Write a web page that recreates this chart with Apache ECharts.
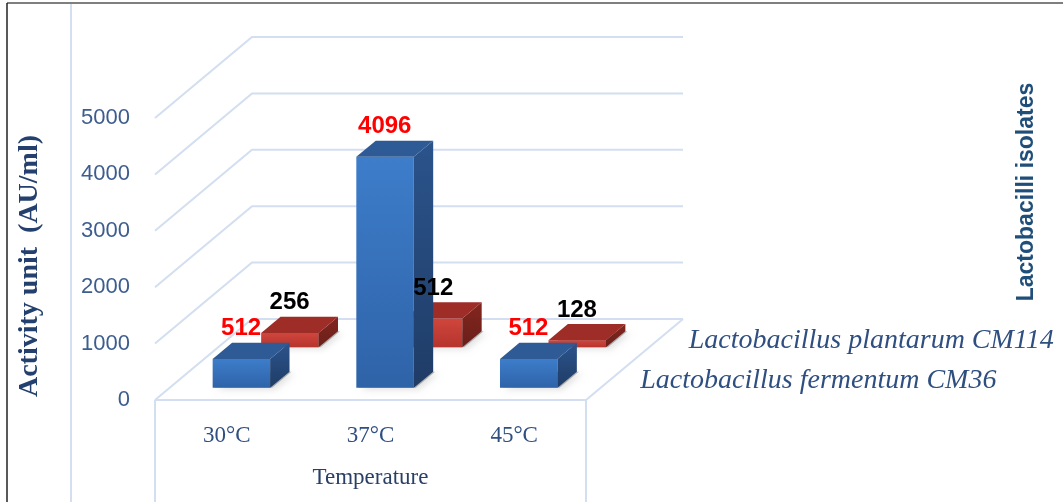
<!DOCTYPE html>
<html>
<head>
<meta charset="utf-8">
<script src="https://cdn.jsdelivr.net/npm/echarts@6/dist/echarts.min.js"></script>
<style>
  html, body { margin: 0; padding: 0; background: #fff; }
  #chart { width: 1063px; height: 502px; }
</style>
</head>
<body>
<div id="chart"></div>
<script>
// data
var temperatures = ['30°C', '37°C', '45°C'];
var seriesNames = ['Lactobacillus fermentum CM36', 'Lactobacillus plantarum CM114'];
var fermentumValues = [512, 4096, 512];
var plantarumValues = [256, 512, 128];
var yTicks = [0, 1000, 2000, 3000, 4000, 5000];

// fake 3d: how far the back of the box sits from the front plane
var DX = 97, DY = -81;
var gridColor = '#d3dff0';

function toPairs(arr) {
    return arr.map(function (v, i) { return [i, v]; });
}

function wallRenderer(params, api) {
    var cs = params.coordSys;
    var y = api.coord([0, api.value(1)])[1];
    var x0 = cs.x, x1 = cs.x + cs.width;
    var lineStyle = { stroke: gridColor, lineWidth: 2, fill: null };
    var children = [{
        type: 'polyline',
        shape: { points: [[x0, y], [x0 + DX, y + DY], [x1 + DX, y + DY]] },
        style: lineStyle
    }];
    if (api.value(1) === 0) {
        // floor front + right edge, and the box round the category labels
        children.push({
            type: 'polyline',
            shape: { points: [[x0, y], [x1, y], [x1 + DX, y + DY]] },
            style: lineStyle
        });
        children.push({ type: 'line', shape: { x1: x0, y1: y, x2: x0, y2: 502 }, style: lineStyle });
        children.push({ type: 'line', shape: { x1: x1, y1: y, x2: x1, y2: 502 }, style: lineStyle });
    }
    return { type: 'group', children: children };
}

function grad(c1, c2) {
    return new echarts.graphic.LinearGradient(0, 0, 0, 1, [
        { offset: 0, color: c1 }, { offset: 1, color: c2 }
    ]);
}

// box corners of one bar, projected
function barBox(row, api) {
    var cat = api.value(0), val = api.value(1);
    var base = api.coord([cat, 0]);
    var top = api.coord([cat, val]);
    var bw = api.size([1, 0])[0] * 0.4;
    var f0 = row * 0.5 + 0.15, d = 0.2;
    var xl = base[0] - bw / 2 + f0 * DX;
    return {
        val: val, bw: bw, xl: xl, xr: xl + bw,
        yb: base[1] + f0 * DY, yt: top[1] + f0 * DY,
        ddx: d * DX, ddy: d * DY
    };
}

function barRenderer(row, colors) {
    return function (params, api) {
        var b = barBox(row, api);
        var xl = b.xl, xr = b.xr, yb = b.yb, yt = b.yt, ddx = b.ddx, ddy = b.ddy;
        return {
            type: 'group',
            children: [
                {   // soft shadow on the floor
                    type: 'polygon',
                    shape: { points: [[xl + 2, yb], [xr + 2, yb], [xr + ddx + 2, yb + ddy], [xl + ddx, yb + ddy]] },
                    style: { fill: 'rgba(0,0,0,0.25)', shadowBlur: 6, shadowColor: 'rgba(0,0,0,0.45)', shadowOffsetX: 3, shadowOffsetY: 2 }
                },
                {
                    type: 'rect',
                    shape: { x: xl, y: yt, width: b.bw, height: yb - yt },
                    style: { fill: grad(colors.front[0], colors.front[1]) }
                },
                {
                    type: 'polygon',
                    shape: { points: [[xr, yt], [xr + ddx, yt + ddy], [xr + ddx, yb + ddy], [xr, yb]] },
                    style: { fill: grad(colors.side[0], colors.side[1]) }
                },
                {
                    type: 'polygon',
                    shape: { points: [[xl, yt], [xl + ddx, yt + ddy], [xr + ddx, yt + ddy], [xr, yt]] },
                    style: { fill: colors.top }
                }
            ]
        };
    };
}

function labelRenderer(row, labelColor, name) {
    return function (params, api) {
        var cs = params.coordSys;
        var b = barBox(row, api);
        var children = [{
            type: 'text',
            style: {
                text: String(b.val),
                x: (b.xl + b.xr) / 2 + b.ddx / 2 - 10,
                y: b.yt + b.ddy / 2 - 22,
                align: 'center',
                verticalAlign: 'middle',
                fill: labelColor,
                font: 'bold 24px "Liberation Sans", Arial, sans-serif'
            }
        }];
        if (params.dataIndex === 0) {
            // series name on the depth axis, off the right floor edge
            var fc = row * 0.5 + 0.25;
            children.push({
                type: 'text',
                style: {
                    text: name,
                    x: cs.x + cs.width + fc * DX + 30,
                    y: cs.y + cs.height + fc * DY + 1,
                    align: 'left',
                    verticalAlign: 'middle',
                    fill: '#2f4f80',
                    font: 'italic 28px "Liberation Serif", "Times New Roman", serif'
                }
            });
        }
        return { type: 'group', children: children };
    };
}

var blueFaces = { front: ['#3d7dca', '#2f63a8'], side: ['#2b548c', '#1f3c66'], top: '#2e5b95' };
var redFaces = { front: ['#d0463d', '#b5342d'], side: ['#84261f', '#6a1e1a'], top: '#9e2c27' };

var chart = echarts.init(document.getElementById('chart'));
chart.setOption({
    animation: false,
    backgroundColor: '#fff',
    grid: { left: 155, right: 477, top: 118, bottom: 102 },
    xAxis: {
        type: 'category',
        data: temperatures,
        name: 'Temperature',
        nameLocation: 'middle',
        nameGap: 66,
        nameTextStyle: { color: '#2a3f66', fontSize: 23, fontFamily: '"Liberation Serif", "Times New Roman", serif' },
        axisLine: { show: false },
        axisTick: { show: false },
        axisLabel: { margin: 24, color: '#2f4f80', fontSize: 23, fontFamily: '"Liberation Serif", "Times New Roman", serif' }
    },
    yAxis: {
        type: 'value',
        min: 0,
        max: 5000,
        interval: 1000,
        name: 'Activity unit  (AU/ml)',
        nameLocation: 'middle',
        nameGap: 111,
        nameRotate: 90,
        nameTextStyle: {
            color: '#24406e', fontSize: 28, fontWeight: 'bold',
            fontFamily: '"Liberation Serif", "Times New Roman", serif',
            padding: [0, 14, 0, 0]
        },
        axisLine: { show: false },
        axisTick: { show: false },
        splitLine: { show: false },
        axisLabel: {
            margin: 25, color: '#3d5d8f', fontSize: 22,
            fontFamily: '"Liberation Sans", Arial, sans-serif',
            formatter: function (v) { return String(v); }
        }
    },
    graphic: [
        { type: 'line', shape: { x1: 7, y1: 3, x2: 1063, y2: 3 }, style: { stroke: '#555', lineWidth: 1.5 } },
        { type: 'line', shape: { x1: 7, y1: 3, x2: 7, y2: 502 }, style: { stroke: '#222', lineWidth: 1.5 } },
        { type: 'line', shape: { x1: 71, y1: 4, x2: 71, y2: 502 }, style: { stroke: '#d3dff0', lineWidth: 2 } },
        {
            type: 'text',
            x: 1027, y: 192,
            rotation: Math.PI / 2,
            style: {
                text: 'Lactobacilli isolates',
                align: 'center',
                verticalAlign: 'middle',
                fill: '#1f4e79',
                font: 'bold 23px "Liberation Sans", Arial, sans-serif'
            }
        }
    ],
    series: [
        {
            type: 'custom',
            name: 'walls',
            data: yTicks.map(function (v) { return [0, v]; }),
            renderItem: wallRenderer,
            encode: { x: 0, y: 1 },
            z: 1,
            silent: true
        },
        {
            type: 'custom',
            name: seriesNames[1],
            data: toPairs(plantarumValues),
            renderItem: barRenderer(1, redFaces),
            encode: { x: 0, y: 1 },
            z: 2
        },
        {
            type: 'custom',
            name: seriesNames[0],
            data: toPairs(fermentumValues),
            renderItem: barRenderer(0, blueFaces),
            encode: { x: 0, y: 1 },
            z: 3
        },
        {
            type: 'custom',
            name: seriesNames[1] + ' labels',
            data: toPairs(plantarumValues),
            renderItem: labelRenderer(1, '#000000', seriesNames[1]),
            encode: { x: 0, y: 1 },
            z: 4,
            silent: true
        },
        {
            type: 'custom',
            name: seriesNames[0] + ' labels',
            data: toPairs(fermentumValues),
            renderItem: labelRenderer(0, '#ff0000', seriesNames[0]),
            encode: { x: 0, y: 1 },
            z: 4,
            silent: true
        }
    ]
});
</script>
</body>
</html>
